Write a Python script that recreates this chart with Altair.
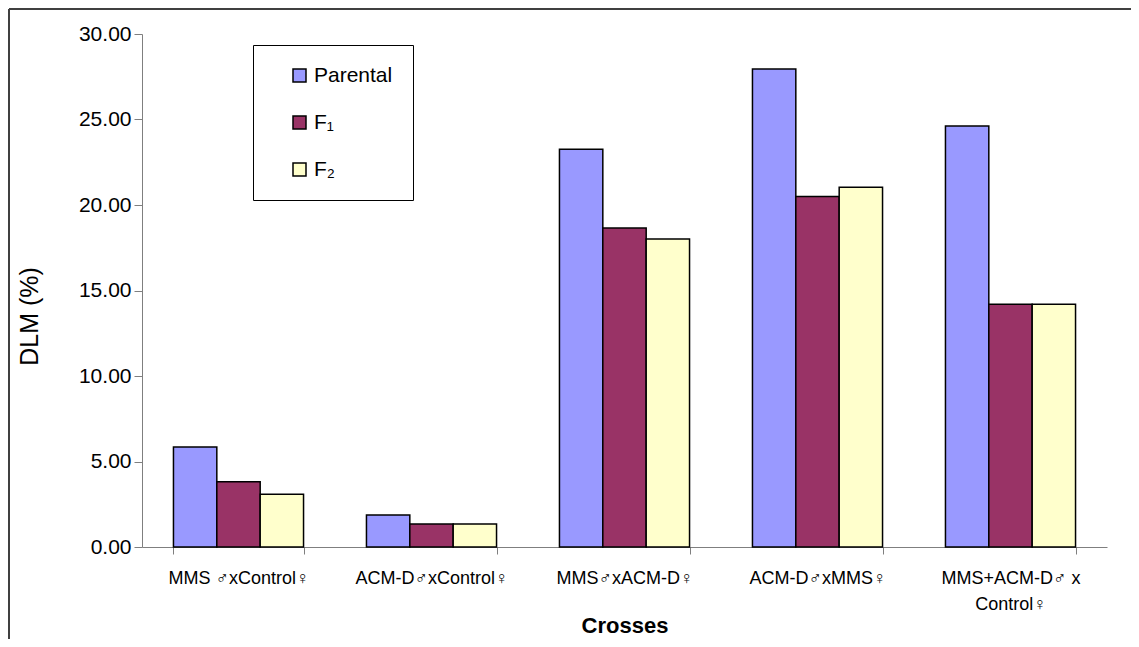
import altair as alt
import pandas as pd

crosses = ["MMS ♂xControl♀", "ACM-D♂xControl♀", "MMS♂xACM-D♀",
           "ACM-D♂xMMS♀", "MMS+ACM-D♂ x Control♀"]
series = ["Parental", "F₁", "F₂"]
parental = [5.85, 1.87, 23.26, 27.95, 24.62]
f1 = [3.82, 1.35, 18.66, 20.49, 14.19]
f2 = [3.08, 1.35, 18.01, 21.04, 14.19]
colors = ["#9999FF", "#993366", "#FFFFCC"]
y_ticks = [0, 5, 10, 15, 20, 25, 30]

rows = []
for s, vals in zip(series, [parental, f1, f2]):
    for c, v in zip(crosses, vals):
        rows.append({"cross": c, "series": s, "value": v})
df = pd.DataFrame(rows)

FONT = "Liberation Sans, DejaVu Sans"
AXIS_GRAY = "#7f7f7f"

label_expr = ("datum.label == 'MMS+ACM-D♂ x Control♀' ? "
              "['MMS+ACM-D♂ x', 'Control♀'] : datum.label")

bars = alt.Chart(df).mark_bar(stroke="black", strokeWidth=1.5).encode(
    x=alt.X("cross:N", sort=crosses,
            scale=alt.Scale(paddingInner=0.326, paddingOuter=0.163),
            axis=alt.Axis(title="Crosses", labelAngle=0, labelExpr=label_expr,
                          labelFontSize=18, labelLineHeight=26, labelPadding=15,
                          labelBaseline="top", labelLimit=400,
                          tickBand="extent", tickSize=7, tickColor=AXIS_GRAY,
                          domainColor=AXIS_GRAY, labelColor="black",
                          titleFontSize=22, titleFontWeight="bold",
                          titleY=85, titleBaseline="alphabetic",
                          titleColor="black")),
    xOffset=alt.XOffset("series:N", sort=series,
                        scale=alt.Scale(paddingInner=0, paddingOuter=0)),
    y=alt.Y("value:Q", scale=alt.Scale(domain=[0, 30], nice=False),
            axis=alt.Axis(title="DLM (%)", values=y_ticks, format=".2f",
                          grid=False, tickSize=8, labelPadding=3,
                          tickColor=AXIS_GRAY, domainColor=AXIS_GRAY,
                          labelFontSize=21, labelColor="black",
                          titleFontSize=25, titleFontWeight="normal",
                          titleColor="black", titleX=-105, titleY=282,
                          titleAngle=270, titleAlign="center",
                          titleBaseline="alphabetic")),
    color=alt.Color("series:N", sort=series,
                    scale=alt.Scale(domain=series, range=colors),
                    legend=alt.Legend(title=None, orient="none",
                                      legendX=111, legendY=11,
                                      symbolType="square", symbolSize=169,
                                      symbolStrokeColor="black",
                                      symbolStrokeWidth=1.5,
                                      symbolOffset=16,
                                      labelFontSize=21, labelColor="black",
                                      rowPadding=25, padding=20,
                                      strokeColor="black",
                                      fillColor="white")),
)

frame_data = alt.Data(values=[{}])
frame_left = alt.Chart(frame_data).mark_rule(color="#404040", strokeWidth=2).encode(
    x=alt.value(-133), y=alt.value(-25), y2=alt.value(620))
frame_top = alt.Chart(frame_data).mark_rule(color="#404040", strokeWidth=2).encode(
    x=alt.value(-133), x2=alt.value(1000), y=alt.value(-25))

chart = alt.layer(bars, frame_left, frame_top).properties(
    width=965, height=513,
    autosize=alt.AutoSizeParams(type="none"),
    padding={"left": 134, "top": 26, "right": 24, "bottom": 92},
).configure(font=FONT).configure_view(stroke=None)

chart.save("out.html", embed_options={"renderer": "svg", "actions": False})
